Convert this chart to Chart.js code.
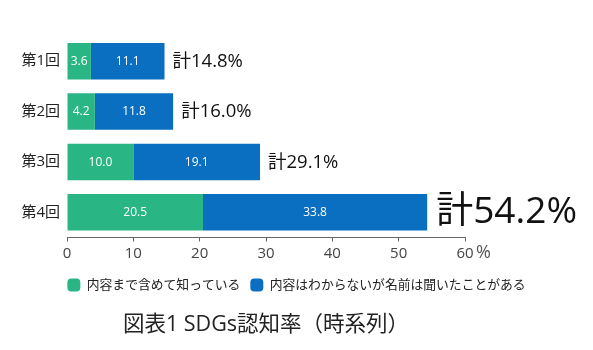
<!DOCTYPE html>
<html><head><meta charset="utf-8">
<script src="https://cdn.jsdelivr.net/npm/chart.js@4"></script>
<style>html,body{margin:0;padding:0;background:#fff}#wrap{width:593px;height:350px}</style>
</head><body><div id="wrap"><canvas id="c" width="593" height="350"></canvas></div>
<script>
const categories = ['第1回', '第2回', '第3回', '第4回'];
const knowContent = [3.6, 4.2, 10.0, 20.5];
const heardName = [11.1, 11.8, 19.1, 33.8];
const totals = [14.8, 16.0, 29.1, 54.2];
const seriesNames = ['内容まで含めて知っている', '内容はわからないが名前は聞いたことがある'];
const xTickValues = [0, 10, 20, 30, 40, 50, 60];
const chartTitle = '図表1 SDGs認知率（時系列）';
const unitLabel = '%';
const totalPrefix = '計';

const FONT = '"Open Sans", "Noto Sans CJK JP", sans-serif';
const GREEN = '#2ab585';
const BLUE = '#0a6fc0';

const labelPlugin = {
  id: 'labelPlugin',
  afterDatasetsDraw(chart) {
    const ctx = chart.ctx;
    ctx.save();
    ctx.textBaseline = 'middle';
    ctx.textAlign = 'center';
    ctx.fillStyle = '#ffffff';
    ctx.font = '12px ' + FONT;
    chart.data.datasets.forEach((ds, i) => {
      const meta = chart.getDatasetMeta(i);
      meta.data.forEach((bar, j) => {
        const v = ds.data[j];
        ctx.fillText(v.toFixed(1), (bar.x + bar.base) / 2, bar.y + 0.5);
      });
    });
    const lastMeta = chart.getDatasetMeta(chart.data.datasets.length - 1);
    ctx.textAlign = 'left';
    ctx.fillStyle = '#111111';
    lastMeta.data.forEach((bar, j) => {
      const big = j === totals.length - 1;
      ctx.font = (big ? '37px ' : '18.5px ') + FONT;
      ctx.fillText(totalPrefix + totals[j].toFixed(1) + '%', bar.x + (big ? 9 : 8), bar.y + 0.5);
    });
    const xs = chart.scales.x;
    ctx.font = '18px ' + FONT;
    ctx.fillStyle = '#555555';
    ctx.fillText(unitLabel, xs.right + 11, xs.top + 15);
    ctx.restore();
  }
};

new Chart(document.getElementById('c'), {
  type: 'bar',
  data: {
    labels: categories,
    datasets: [
      { label: seriesNames[0], data: knowContent, backgroundColor: GREEN, borderWidth: 0 },
      { label: seriesNames[1], data: heardName, backgroundColor: BLUE, borderWidth: 0 }
    ]
  },
  options: {
    indexAxis: 'y',
    responsive: false,
    animation: false,
    devicePixelRatio: 1,
    layout: { padding: { top: 36, left: 0, right: 0, bottom: 0 } },
    datasets: { bar: { categoryPercentage: 1, barPercentage: 0.726 } },
    scales: {
      x: {
        stacked: true,
        min: 0, max: 60,
        afterBuildTicks(s) { s.ticks = xTickValues.map(v => ({ value: v })); },
        afterFit(s) { s.height = 31; },
        grid: { display: true, drawOnChartArea: false, drawTicks: true, tickLength: 4, color: '#666666' },
        border: { display: true, color: '#666666', width: 1 },
        ticks: { font: { family: FONT, size: 15 }, color: '#444444', padding: 3 }
      },
      y: {
        stacked: true,
        afterFit(s) { s.width = 67; },
        grid: { display: false, drawTicks: false },
        border: { display: false },
        ticks: { font: { family: FONT, size: 15 }, color: '#222222', padding: 7 }
      },
      yRight: {
        type: 'linear',
        position: 'right',
        display: true,
        afterFit(s) { s.width = 128; },
        grid: { display: false },
        border: { display: false },
        ticks: { display: false }
      }
    },
    plugins: {
      legend: {
        position: 'bottom',
        labels: {
          font: { family: FONT, size: 12.8 },
          color: '#222222',
          boxWidth: 13, boxHeight: 13,
          useBorderRadius: true, borderRadius: 4,
          padding: 10
        }
      },
      title: {
        display: true,
        position: 'bottom',
        text: chartTitle,
        fullSize: false,
        font: { family: FONT, size: 21.5, weight: 'normal' },
        color: '#222222',
        padding: { top: 10.6, bottom: 12.1 }
      },
      tooltip: { enabled: false }
    }
  },
  plugins: [labelPlugin]
});
</script>
</body></html>
